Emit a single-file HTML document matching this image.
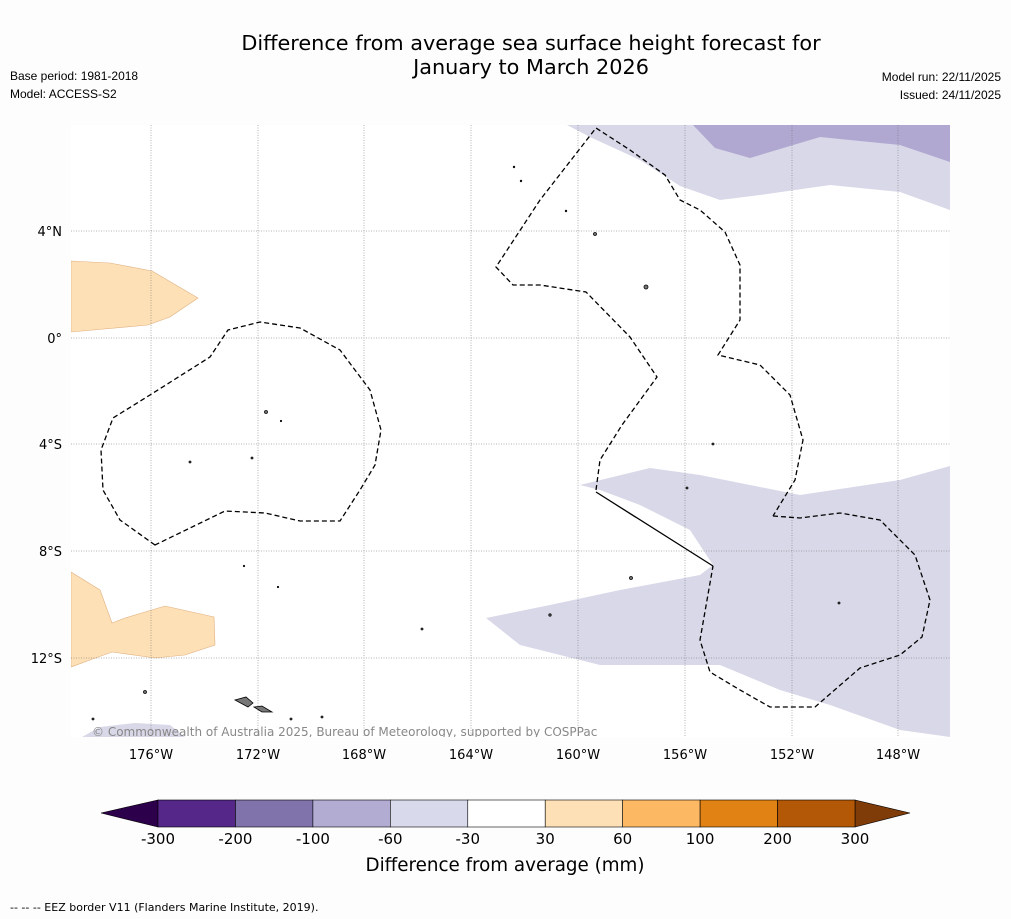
<!DOCTYPE html>
<html><head><meta charset="utf-8"><style>
body{margin:0;background:#fdfdfd;font-family:"Liberation Sans","DejaVu Sans",sans-serif;}
#wrap{position:relative;width:1011px;height:919px;overflow:hidden;background:#fdfdfd}
</style></head><body>
<div id="wrap">
<svg width="1011" height="919" viewBox="0 0 1011 919" xmlns="http://www.w3.org/2000/svg" font-family="DejaVu Sans, Liberation Sans, sans-serif">
<text x="531" y="50" font-size="20.8" text-anchor="middle">Difference from average sea surface height forecast for</text>
<text x="531" y="74" font-size="20.8" text-anchor="middle">January to March 2026</text>
<text x="10" y="80" font-size="12" font-family="Liberation Sans, sans-serif">Base period: 1981-2018</text>
<text x="10" y="98" font-size="12" font-family="Liberation Sans, sans-serif">Model: ACCESS-S2</text>
<text x="1001" y="81" font-size="12" font-family="Liberation Sans, sans-serif" text-anchor="end">Model run: 22/11/2025</text>
<text x="1001" y="99" font-size="12" font-family="Liberation Sans, sans-serif" text-anchor="end">Issued: 24/11/2025</text>
<g id="map">
<rect x="71" y="125" width="879" height="612" fill="#fff"/>
<clipPath id="cp"><rect x="71" y="125" width="879" height="612"/></clipPath>
<g clip-path="url(#cp)">
<path fill="#d8d8e8" d="M567,125L950,125L950,210L900,192L830,185L760,195L720,200L680,186L640,160L590,137Z"/>
<path fill="#b0a8d0" d="M693,125L950,125L950,162L900,145L820,137L750,158L715,148Z"/>
<path fill="#d8d8e8" d="M580,485L650,468L700,475L800,495L900,480L950,466L950,737L900,730L830,705L780,690L720,665L600,665L520,645L486,618L550,605L620,590L700,575L713,565L690,530L640,505L600,490Z"/>
<path fill="#d8d8e8" d="M82,737L100,727L135,723L170,725L185,737Z"/>
<path fill="#fee0b6" stroke="#e0b080" stroke-width="0.6" d="M71,261L110,263L152,271L198,298L170,317L148,325L71,332Z"/>
<path fill="#fee0b6" stroke="#e0b080" stroke-width="0.6" d="M71,572L100,590L112,623L125,618L165,606L214,617L215,645L185,655L155,658L112,652L90,660L71,667Z"/>
<g stroke="#666" stroke-width="0.5" stroke-dasharray="1,1.5">
<line x1="151" y1="125" x2="151" y2="737"/><line x1="258" y1="125" x2="258" y2="737"/><line x1="364" y1="125" x2="364" y2="737"/><line x1="471" y1="125" x2="471" y2="737"/><line x1="578" y1="125" x2="578" y2="737"/><line x1="685" y1="125" x2="685" y2="737"/><line x1="792" y1="125" x2="792" y2="737"/><line x1="898" y1="125" x2="898" y2="737"/>
<line x1="71" y1="231" x2="950" y2="231"/><line x1="71" y1="338" x2="950" y2="338"/><line x1="71" y1="444" x2="950" y2="444"/><line x1="71" y1="551" x2="950" y2="551"/><line x1="71" y1="658" x2="950" y2="658"/>
</g>
<g fill="none" stroke="#000" stroke-width="1.3" stroke-dasharray="5,3">
<path d="M155,545L120,520L103,490L101,450L113,418L150,395L210,357L228,330L260,322L300,328L340,350L370,390L381,430L375,465L360,490L340,521L300,521L265,513L225,511Z"/>
<path d="M596,490L600,460L622,425L657,377L630,337L586,292L540,285L513,285L496,267L540,200L596,128L630,150L665,175L680,200L700,210L725,232L740,265L740,320L718,355L760,365L790,395L803,440L795,480L773,516"/>
<path d="M773,516L800,518L840,513L880,520L915,555L930,600L922,637L900,655L860,668L815,707L770,707L740,690L710,672L700,640L713,566"/>
</g>
<line x1="596" y1="492" x2="713" y2="566" stroke="#000" stroke-width="1.3"/>
<g fill="#777" stroke="#000" stroke-width="0.8">
<path d="M235,700L246,697L253,703L248,707Z"/><path d="M254,707L262,706L272,712L262,712Z"/>
<circle cx="145" cy="692" r="1.5"/><circle cx="266" cy="412" r="1.5"/><circle cx="595" cy="234" r="1.5"/><circle cx="646" cy="287" r="2"/><circle cx="631" cy="578" r="1.5"/><circle cx="550" cy="615" r="1.2"/><circle cx="252" cy="458" r="1"/><circle cx="190" cy="462" r="1"/><circle cx="93" cy="719" r="1"/><circle cx="291" cy="719" r="1"/><circle cx="322" cy="717" r="1"/><circle cx="422" cy="629" r="1"/><circle cx="713" cy="444" r="1"/><circle cx="687" cy="488" r="1"/><circle cx="839" cy="603" r="1"/><circle cx="514" cy="167" r="0.8"/><circle cx="521" cy="181" r="0.8"/><circle cx="566" cy="211" r="0.8"/><circle cx="281" cy="421" r="0.7"/><circle cx="244" cy="566" r="0.7"/><circle cx="278" cy="587" r="0.7"/>
</g>
<text x="92" y="736" font-size="12" fill="#888">© Commonwealth of Australia 2025, Bureau of Meteorology, supported by COSPPac</text>
</g>
<g font-size="13">
<text x="151" y="759" text-anchor="middle">176°W</text><text x="258" y="759" text-anchor="middle">172°W</text><text x="364" y="759" text-anchor="middle">168°W</text><text x="471" y="759" text-anchor="middle">164°W</text><text x="578" y="759" text-anchor="middle">160°W</text><text x="685" y="759" text-anchor="middle">156°W</text><text x="792" y="759" text-anchor="middle">152°W</text><text x="898" y="759" text-anchor="middle">148°W</text>
<text x="62" y="236" text-anchor="end">4°N</text><text x="62" y="343" text-anchor="end">0°</text><text x="62" y="449" text-anchor="end">4°S</text><text x="62" y="556" text-anchor="end">8°S</text><text x="62" y="663" text-anchor="end">12°S</text>
</g>
</g>
<g id="cbar"></g>
<text x="505" y="871" font-size="18.3" text-anchor="middle">Difference from average (mm)</text>
<text x="10" y="911" font-size="11">--  --  -- EEZ border V11 (Flanders Marine Institute, 2019).</text>
</svg>
</div>
<script>
const levels=[-300,-200,-100,-60,-30,30,60,100,200,300];
const colors=["#542788","#8073ac","#b2abd2","#d8daeb","#ffffff","#fee0b6","#fdb863","#e08214","#b35806"];
const extColors=["#2d004b","#7f3b08"];
const NS="http://www.w3.org/2000/svg";
const g=document.getElementById('cbar');
const x0=158,x1=855,yT=800,yB=827;
const step=(x1-x0)/(levels.length-1);
const xs=i=>x0+i*step;
function mk(t,a){const e=document.createElementNS(NS,t);for(const k in a)e.setAttribute(k,a[k]);g.appendChild(e);return e;}
let l=mk('polygon',{points:`${x0},${yT} ${x0},${yB} 101,813`,fill:extColors[0],stroke:'#000','stroke-width':0.6});


let r=mk('polygon',{points:`${x1},${yT} ${x1},${yB} 910,813`,fill:extColors[1],stroke:'#000','stroke-width':0.6});


colors.forEach((c,i)=>{
 const e=mk('rect',{x:xs(i),y:yT,width:step,height:yB-yT,fill:c,stroke:'#000','stroke-width':0.6});
 
 
});
levels.forEach((v,i)=>{
 const t=mk('text',{x:xs(i),y:844,'font-size':15,'text-anchor':'middle'});
 t.textContent=v;
 
 
});
</script>
</body></html>
